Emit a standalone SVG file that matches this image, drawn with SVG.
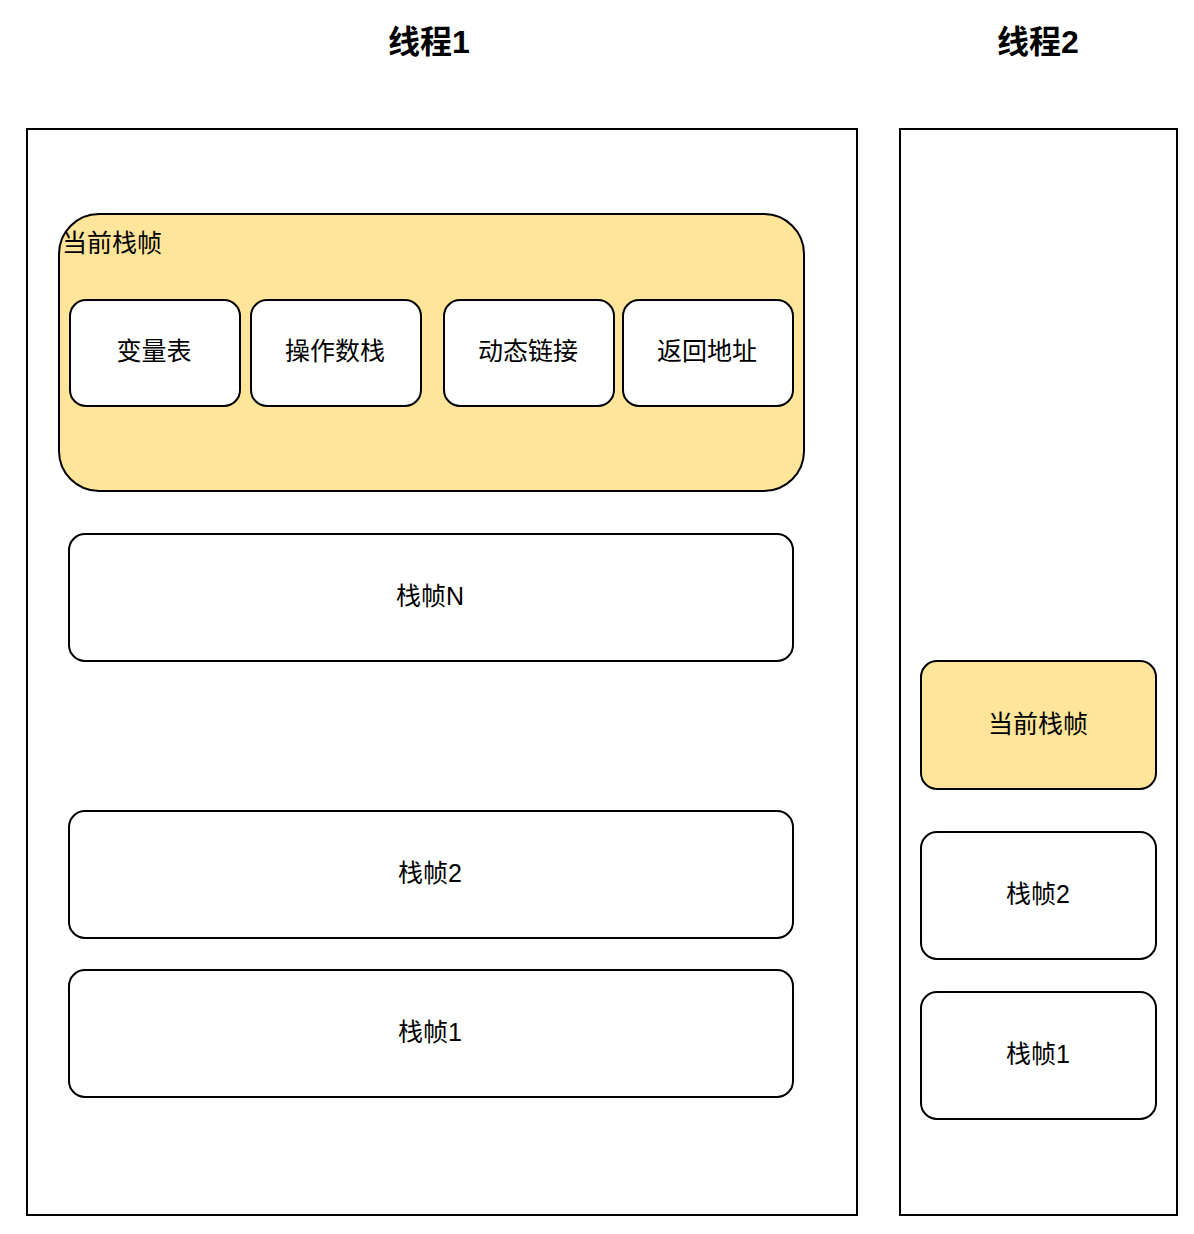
<svg xmlns="http://www.w3.org/2000/svg" width="1194" height="1234" viewBox="0 0 1194 1234">
<style>
.c{fill:#fff;stroke:#000;stroke-width:2}
.n{fill:#fff;stroke:#000;stroke-width:2}
.y{fill:#ffe599;stroke:#000;stroke-width:2}
text{font-family:"Liberation Sans","Noto Sans CJK SC",sans-serif;font-size:25px;fill:#000}
.m{text-anchor:middle;dominant-baseline:central}
.t{font-size:32px;font-weight:bold;text-anchor:middle;dominant-baseline:central}
</style>
<rect width="1194" height="1234" fill="#fff"/>
<g id="title1"><text class="t" x="429" y="42">线程1</text></g>
<g id="title2"><text class="t" x="1038" y="42">线程2</text></g>
<g id="thread1"><rect class="c" x="27" y="129" width="830" height="1086"/></g>
<g id="thread2"><rect class="c" x="900" y="129" width="277" height="1086"/></g>
<g id="current1"><rect class="y" x="59" y="214" width="745" height="277" rx="40"/><text x="62" y="243" dominant-baseline="central">当前栈帧</text></g>
<g id="vars"><rect class="n" x="70" y="300" width="170" height="106" rx="16"/><text class="m" x="154" y="351">变量表</text></g>
<g id="opstack"><rect class="n" x="251" y="300" width="170" height="106" rx="16"/><text class="m" x="335" y="351">操作数栈</text></g>
<g id="dynlink"><rect class="n" x="444" y="300" width="170" height="106" rx="16"/><text class="m" x="528" y="351">动态链接</text></g>
<g id="retaddr"><rect class="n" x="623" y="300" width="170" height="106" rx="16"/><text class="m" x="707" y="351">返回地址</text></g>
<g id="frameN"><rect class="n" x="69" y="534" width="724" height="127" rx="16"/><text class="m" x="430" y="596">栈帧N</text></g>
<g id="frame2a"><rect class="n" x="69" y="811" width="724" height="127" rx="16"/><text class="m" x="430" y="873">栈帧2</text></g>
<g id="frame1a"><rect class="n" x="69" y="970" width="724" height="127" rx="16"/><text class="m" x="430" y="1032">栈帧1</text></g>
<g id="current2"><rect class="y" x="921" y="661" width="235" height="128" rx="16"/><text class="m" x="1038" y="724">当前栈帧</text></g>
<g id="frame2b"><rect class="n" x="921" y="832" width="235" height="127" rx="16"/><text class="m" x="1038" y="894">栈帧2</text></g>
<g id="frame1b"><rect class="n" x="921" y="992" width="235" height="127" rx="16"/><text class="m" x="1038" y="1054">栈帧1</text></g>
<g id="connectors"></g>
</svg>
